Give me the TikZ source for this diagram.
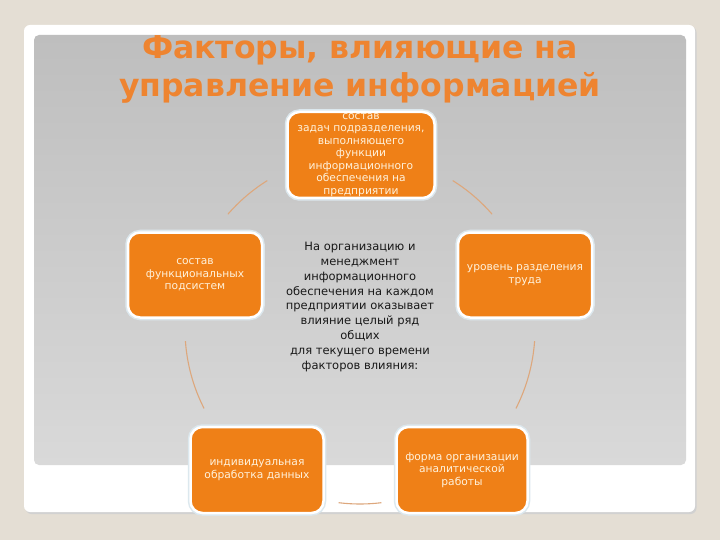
\documentclass[tikz,border=0pt]{standalone}
\usepackage{fontspec}
\setmainfont{DejaVu Sans}
\usepackage{tikz}
\usetikzlibrary{calc}
\usepackage{xcolor}
\definecolor{pageBeige}{HTML}{E4DED4}
\definecolor{panelTop}{HTML}{BEBEBE}
\definecolor{panelBottom}{HTML}{D9D9D9}
\definecolor{titleOrange}{HTML}{EE8430}
\definecolor{boxOrange}{HTML}{EF8017}
\definecolor{boxText}{HTML}{FFF2DC}
\definecolor{glowBlue}{HTML}{DCE8EE}
\definecolor{ringTan}{HTML}{DDA77C}
\tikzset{
    TitleText/.style={font=\fontsize{31.5}{38}\selectfont\bfseries, align=center, text=titleOrange},
    FactorBox/.style={rectangle, rounded corners=12pt, fill=boxOrange, draw=white, line width=2.5pt,
        preaction={draw=glowBlue, line width=5.5pt}, text=boxText, align=center, inner sep=1pt,
        font=\fontsize{10.7}{12.5}\selectfont},
    CenterText/.style={font=\fontsize{11.5}{14.9}\selectfont, text=black!90, align=center},
    RingArc/.style={ringTan, line width=1.1pt}
}

\begin{document}
\begin{tikzpicture}[x=1pt, y=-1pt]
    % page and slide panels
    \useasboundingbox[fill=pageBeige] (0,0) rectangle (720,540);
    \fill[black!18, rounded corners=6pt] (25.5,26.5) rectangle (696.5,514);
    \fill[white, rounded corners=6pt] (24,25) rectangle (695,512);
    \shade[top color=panelTop, bottom color=panelBottom, rounded corners=5pt] (34,35) rectangle (686,465);

    % --- title ---
    \node[TitleText] (title) at (360,69) {Факторы, влияющие на\\управление информацией};

    % ring of arcs round the centre
    \coordinate (hub) at (360,329);
    \def\ringR{175}
    \draw[RingArc] (hub) ++(221:\ringR) arc[start angle=221, end angle=238, radius=\ringR];
    \draw[RingArc] (hub) ++(302:\ringR) arc[start angle=302, end angle=319, radius=\ringR];
    \draw[RingArc] (hub) ++(153:\ringR) arc[start angle=153, end angle=176, radius=\ringR];
    \draw[RingArc] (hub) ++(4:\ringR) arc[start angle=4, end angle=27, radius=\ringR];
    \draw[RingArc] (hub) ++(83:\ringR) arc[start angle=83, end angle=97, radius=\ringR];

    % --- factor boxes ---
    \node[FactorBox, minimum width=147pt, minimum height=86pt] (tasks) at (361,155)
        {состав\\задач подразделения,\\выполняющего\\функции\\информационного\\обеспечения на\\предприятии};
    \node[FactorBox, minimum width=134pt, minimum height=85pt] (subsystems) at (195,275)
        {состав\\функциональных\\подсистем};
    \node[FactorBox, minimum width=134pt, minimum height=85pt] (labour) at (525,275)
        {уровень разделения\\труда};
    \node[FactorBox, minimum width=133pt, minimum height=86pt] (individual) at (257,470)
        {индивидуальная\\обработка данных};
    \node[FactorBox, minimum width=131pt, minimum height=86pt] (analytics) at (462,470)
        {форма организации\\аналитической\\работы};

    % centre text
    \node[CenterText] (influence) at (360,307)
        {На организацию и\\менеджмент\\информационного\\обеспечения на каждом\\предприятии оказывает\\влияние целый ряд\\общих\\для текущего времени\\факторов влияния:};
\end{tikzpicture}
\end{document}
